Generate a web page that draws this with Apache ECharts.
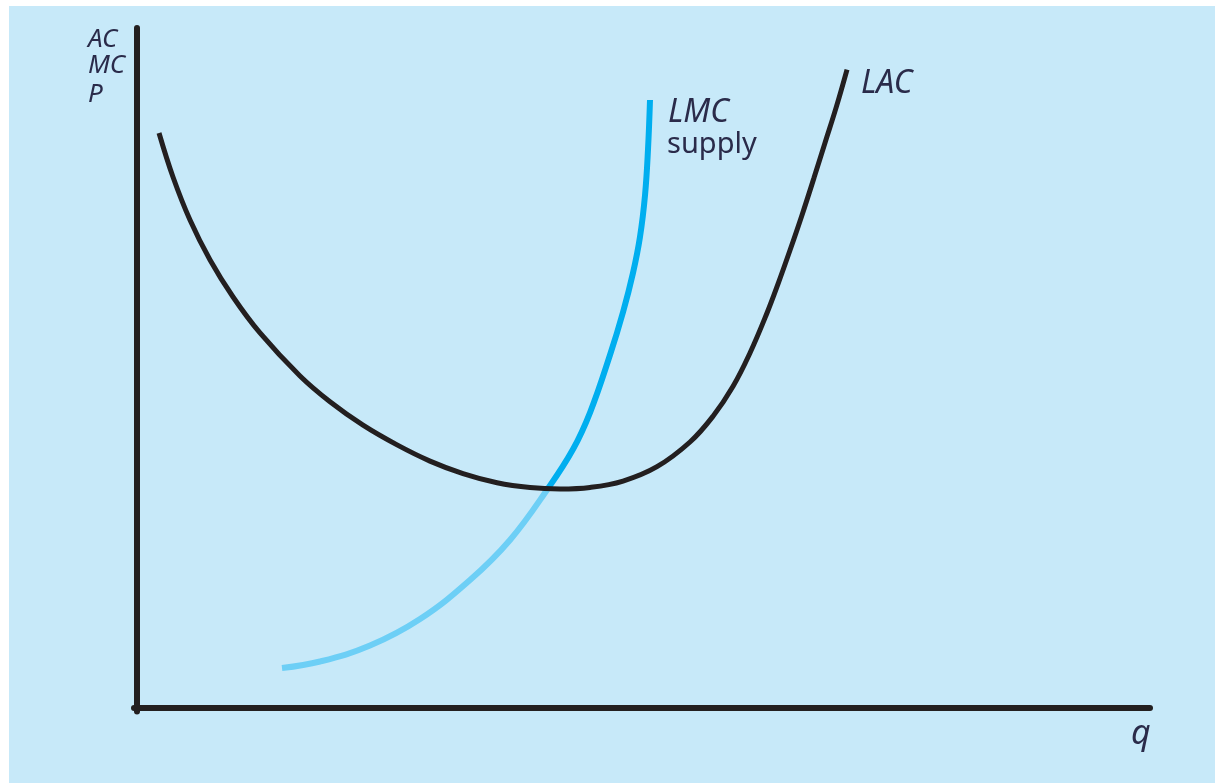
<!DOCTYPE html>
<html>
<head>
<meta charset="utf-8">
<script src="https://cdn.jsdelivr.net/npm/echarts@6/dist/echarts.min.js"></script>
<style>
html,body{margin:0;padding:0;background:#ffffff;}
#chart{width:1215px;height:783px;}
</style>
</head>
<body>
<div id="chart"></div>
<script>
// Long-run average cost curve (q, AC)
const lacQ = [0.217,0.355,0.523,0.721,0.948,1.214,1.609,1.905,2.231,2.567,2.892,3.218,3.554,3.880,4.176,4.472,4.798,5.133,5.459,5.686,5.884,6.051,6.219,6.328,6.446,6.565,6.683,6.792,6.905,7.009];
const lacP = [8.456,7.809,7.176,6.588,6.044,5.515,4.882,4.503,4.159,3.869,3.631,3.447,3.312,3.241,3.221,3.243,3.338,3.549,3.912,4.291,4.732,5.221,5.809,6.237,6.731,7.251,7.796,8.313,8.847,9.388];
// Long-run marginal cost: part below minimum of LAC
const lmcLowQ = [1.431,1.807,2.300,2.794,3.287,3.682,4.057];
const lmcLowP = [0.588,0.684,0.919,1.309,1.882,2.471,3.229];
// LMC above minimum of LAC (supply), continuing from the minimum point
const lmcHighQ = [4.304,4.472,4.669,4.798,4.896,4.965,5.015,5.044,5.064];
const lmcHighP = [3.805,4.345,5.191,5.824,6.397,6.926,7.544,8.206,8.941];
const minLAC = 3.229;

const zip = (a,b) => a.map((v,i)=>[v,b[i]]);
const lmcData = zip(lmcLowQ,lmcLowP).concat(zip(lmcHighQ,lmcHighP));
const allP = lmcLowP.concat(lmcHighP);
const pMax = Math.max(...allP), pMin = Math.min(...allP);
const f = (pMax - minLAC) / (pMax - pMin);
const lmcColor = new echarts.graphic.LinearGradient(0,0,0,1,[
  {offset:0, color:'#00aeef'},{offset:f, color:'#00aeef'},
  {offset:f, color:'#6dcff6'},{offset:1, color:'#6dcff6'}]);

const chart = echarts.init(document.getElementById('chart'), null, {renderer:'canvas'});
const txt = '#2a2b4a';
const font = '"Noto Sans", "DejaVu Sans", sans-serif';
chart.setOption({
  backgroundColor:'#ffffff',
  animation:false,
  grid:{left:134, right:65, top:28, bottom:71.6},
  xAxis:{type:'value', min:-0.03, max:10,
    axisLine:{show:true, onZero:true, lineStyle:{color:'#231f20', width:6}},
    axisTick:{show:false}, axisLabel:{show:false}, splitLine:{show:false}},
  yAxis:{type:'value', min:-0.05, max:10,
    axisLine:{show:true, onZero:true, lineStyle:{color:'#231f20', width:6}},
    axisTick:{show:false}, axisLabel:{show:false}, splitLine:{show:false}},
  graphic:[
    {type:'rect', z:-10, silent:true, shape:{x:9,y:6,width:1206,height:777}, style:{fill:'#c7e9f9'}},
    {type:'text', left:88, top:27, style:{text:'AC', fontSize:26, fontStyle:'italic', fontFamily:font, fill:txt}},
    {type:'text', left:88, top:53, style:{text:'MC', fontSize:26, fontStyle:'italic', fontFamily:font, fill:txt}},
    {type:'text', left:88, top:82, style:{text:'P', fontSize:26, fontStyle:'italic', fontFamily:font, fill:txt}},
    {type:'text', left:668, top:97, style:{text:'LMC', fontSize:32, fontStyle:'italic', fontFamily:font, fill:txt}},
    {type:'text', left:667, top:130, style:{text:'supply', fontSize:29, fontFamily:font, fill:txt}},
    {type:'text', left:861, top:68, style:{text:'LAC', fontSize:32, fontStyle:'italic', fontFamily:font, fill:txt}},
    {type:'text', left:1131, top:717, style:{text:'q', fontSize:34, fontStyle:'italic', fontFamily:font, fill:txt}}
  ],
  series:[
    {type:'line', data:lmcData, smooth:0.4, showSymbol:false, lineStyle:{color:lmcColor, width:6}, z:2},
    {type:'line', data:zip(lacQ,lacP), smooth:0.4, showSymbol:false, lineStyle:{color:'#231f20', width:5}, z:3}
  ]
});
</script>
</body>
</html>
